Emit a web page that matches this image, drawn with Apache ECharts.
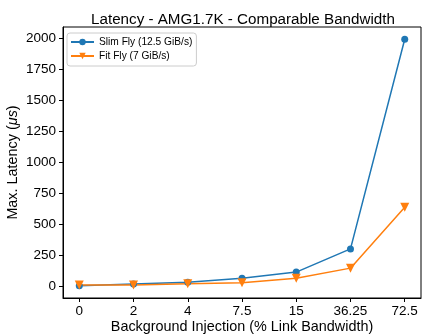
<!DOCTYPE html>
<html><head><meta charset="utf-8">
<script src="https://cdn.jsdelivr.net/npm/echarts@6/dist/echarts.min.js"></script>
<style>html,body{margin:0;padding:0;background:#fff}#c{width:422px;height:335px}</style>
</head><body><div id="c"></div>
<script>
const categories = ['0', '2', '4', '7.5', '15', '36.25', '72.5'];
const slimFly = [6, 20, 34, 67, 116, 303, 1995];
const fitFly = [12, 12, 23, 31, 67, 148, 639];
const yTicks = [0, 250, 500, 750, 1000, 1250, 1500, 1750, 2000];

const font = 'Liberation Sans, Arial, sans-serif';
const idx = categories.map((_, i) => i);
const chart = echarts.init(document.getElementById('c'), null, {renderer: 'canvas'});
chart.setOption({
  animation: false,
  title: {text: 'Latency - AMG1.7K - Comparable Bandwidth', left: 238, top: 7, textAlign: 'center',
    textStyle: {fontFamily: font, fontSize: 15.2, fontWeight: 'normal', color: '#000'}},
  grid: {left: 63, right: 1, top: 27, bottom: 37, show: true, borderColor: '#000', borderWidth: 1,
    containLabel: false, outerBoundsMode: 'none'},
  legend: {left: 67, top: 33, orient: 'vertical', itemWidth: 23, itemHeight: 8, itemGap: 2,
    borderColor: '#ccc', borderWidth: 1, borderRadius: 3, padding: [3, 4, 4, 3],
    textStyle: {fontFamily: font, fontSize: 10.2, color: '#000', lineHeight: 12},
    data: ['Slim Fly (12.5 GiB/s)', 'Fit Fly (7 GiB/s)']},
  xAxis: {type: 'value', min: -0.3, max: 6.3,
    name: 'Background Injection (% Link Bandwidth)', nameLocation: 'middle', nameGap: 22,
    nameMoveOverlap: false,
    nameTextStyle: {fontFamily: font, fontSize: 14.4, color: '#000'},
    axisLine: {onZero: false, lineStyle: {color: '#000'}},
    axisTick: {show: true, length: 4, lineStyle: {color: '#000'}, customValues: idx},
    axisLabel: {customValues: idx, fontFamily: font, fontSize: 13.5, color: '#000', margin: 6,
      formatter: v => categories[Math.round(v)]},
    splitLine: {show: false}},
  yAxis: {type: 'value', min: -93, max: 2094,
    name: '{a|Max. Latency (}{i|μs}{a|)}', nameLocation: 'middle', nameGap: 43,
    nameMoveOverlap: false,
    nameTextStyle: {rich: {a: {fontFamily: font, fontSize: 14.4, color: '#000'}, i: {fontFamily: font, fontSize: 14.4, fontStyle: 'italic', color: '#000'}}},
    axisLine: {show: true, onZero: false, lineStyle: {color: '#000'}},
    axisTick: {show: true, length: 4, lineStyle: {color: '#000'}, customValues: yTicks},
    axisLabel: {customValues: yTicks, fontFamily: font, fontSize: 13.5, color: '#000', margin: 7,
      formatter: v => String(Math.round(v))},
    splitLine: {show: false}},
  series: [
    {name: 'Slim Fly (12.5 GiB/s)', type: 'line', data: slimFly.map((v, i) => [i, v]),
      symbol: 'circle', symbolSize: 7, color: '#1f77b4', lineStyle: {width: 1.5},
      itemStyle: {color: '#1f77b4'}},
    {name: 'Fit Fly (7 GiB/s)', type: 'line', data: fitFly.map((v, i) => [i, v]),
      symbol: 'triangle', symbolRotate: 180, symbolSize: 9, color: '#ff7f0e', lineStyle: {width: 1.5},
      itemStyle: {color: '#ff7f0e'}}
  ]
});
</script></body></html>
